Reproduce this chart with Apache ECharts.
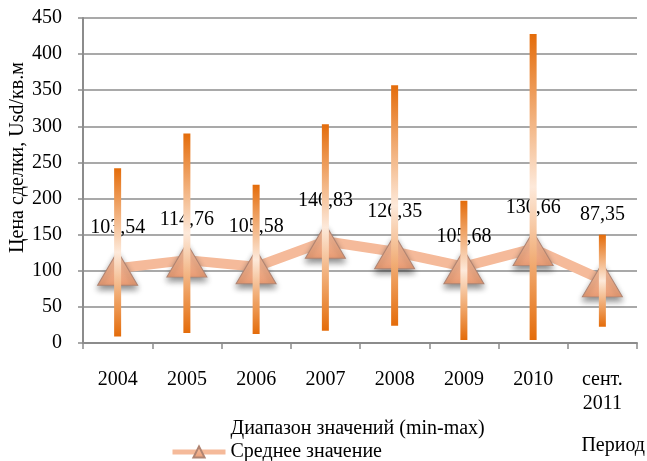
<!DOCTYPE html>
<html>
<head>
<meta charset="utf-8">
<script src="https://cdn.jsdelivr.net/npm/echarts@6/dist/echarts.min.js"></script>
<style>
   html, body { margin: 0; padding: 0; background: #fff; }
   #chart { width: 647px; height: 461px; }
</style>
</head>
<body>
<div id="chart"></div>
<script>

const periods = ['2004', '2005', '2006', '2007', '2008', '2009', '2010', 'сент.\n2011'];
const minValues = [9, 14, 12.5, 17, 24, 4, 4, 22.5];
const maxValues = [242, 290, 219, 303, 357, 197, 428, 150];
const meanValues = [103.54, 114.76, 105.58, 140.83, 126.35, 105.68, 130.66, 87.35];
const yTicks = [0, 50, 100, 150, 200, 250, 300, 350, 400, 450];

const serif = 'Liberation Serif';
const gridColor = '#8c8c8c';

// labels that Excel nudged away from the default spot
const labelShift = { 5: [0, 11], 7: [0, -25] };

var chart = echarts.init(document.getElementById('chart'));

// range bars: transparent base + (max - min) on top
var spans = [];
for (var i = 0; i < periods.length; i++) spans.push(maxValues[i] - minValues[i]);

var meanData = meanValues.map(function (v, i)
{
   var item = { value: v };
   if (labelShift[i]) item.label = { offset: labelShift[i] };
   return item;
});

var option =
{
   animation: false,
   grid: { left: 83, right: 10, top: 18, bottom: 118, outerBoundsMode: 'none', containLabel: false },
   textStyle: { fontFamily: serif },
   legend:
   {
      orient: 'vertical',
      left: 170,
      top: 419,
      height: 43,
      padding: 0,
      itemGap: 3,
      itemWidth: 53,
      itemHeight: 14,
      align: 'left',
      selectedMode: false,
      textStyle: { fontFamily: serif, fontSize: 20, color: '#000', lineHeight: 20 },
      data: [
         { name: 'Диапазон значений (min-max)', itemStyle: { opacity: 0 } },
         { name: 'Среднее значение', lineStyle: { width: 5 } }
      ]
   },
   xAxis:
   {
      type: 'category',
      data: periods,
      boundaryGap: true,
      name: 'Период',
      nameLocation: 'end',
      nameGap: 8,
      nameMoveOverlap: false,
      nameTextStyle: { fontFamily: serif, fontSize: 20, color: '#000', align: 'right', verticalAlign: 'top', padding: [93, 0, 0, 0] },
      axisLine: { lineStyle: { color: gridColor, width: 2 } },
      axisTick: { show: true, length: 6, alignWithLabel: false, lineStyle: { color: gridColor, width: 1.5 } },
      axisLabel: { fontFamily: serif, fontSize: 20, color: '#000', margin: 25, lineHeight: 24, interval: 0 }
   },
   yAxis:
   {
      type: 'value',
      min: yTicks[0],
      max: yTicks[yTicks.length - 1],
      interval: 50,
      name: 'Цена сделки, Usd/кв.м',
      nameLocation: 'middle',
      nameRotate: 90,
      nameGap: 55,
      nameMoveOverlap: false,
      nameTextStyle: { fontFamily: serif, fontSize: 20, color: '#000', padding: [0, 0, 0, 46] },
      axisLine: { show: true, lineStyle: { color: gridColor, width: 2 } },
      axisTick: { show: true, length: 5, lineStyle: { color: gridColor, width: 1.5 } },
      axisLabel: { fontFamily: serif, fontSize: 20, color: '#000', margin: 21 },
      splitLine: { lineStyle: { color: gridColor, width: 1.5 } }
   },
   series:
   [
      {
         name: 'base',
         type: 'bar',
         stack: 'range',
         barWidth: 7,
         silent: true,
         itemStyle: { color: 'rgba(0,0,0,0)' },
         data: minValues,
         z: 5
      },
      {
         name: 'Диапазон значений (min-max)',
         type: 'bar',
         stack: 'range',
         barWidth: 7,
         itemStyle:
         {
            color: new echarts.graphic.LinearGradient(0, 0, 0, 1, [
               { offset: 0, color: '#e46c0a' },
               { offset: 0.5, color: '#fde9da' },
               { offset: 1, color: '#e46c0a' }
            ])
         },
         data: spans,
         z: 5
      },
      {
         name: 'Среднее значение',
         type: 'line',
         data: meanData,
         z: 2,
         symbol: 'triangle',
         symbolSize: [40, 34],
         lineStyle: { color: '#f5ba9a', width: 10 },
         itemStyle:
         {
            color: new echarts.graphic.LinearGradient(0, 0, 0, 1, [
               { offset: 0, color: '#f8c4a6' },
               { offset: 1, color: '#e99c74' }
            ]),
            borderColor: '#b08472',
            borderWidth: 1,
            shadowBlur: 6,
            shadowOffsetY: 4,
            shadowColor: 'rgba(0,0,0,0.45)'
         },
         label:
         {
            show: true,
            position: 'top',
            distance: 13,
            fontFamily: serif,
            fontSize: 20,
            color: '#000',
            formatter: function (p) { return p.value.toFixed(2).replace('.', ','); }
         }
      }
   ]
};

chart.setOption(option);

</script>
</body>
</html>
